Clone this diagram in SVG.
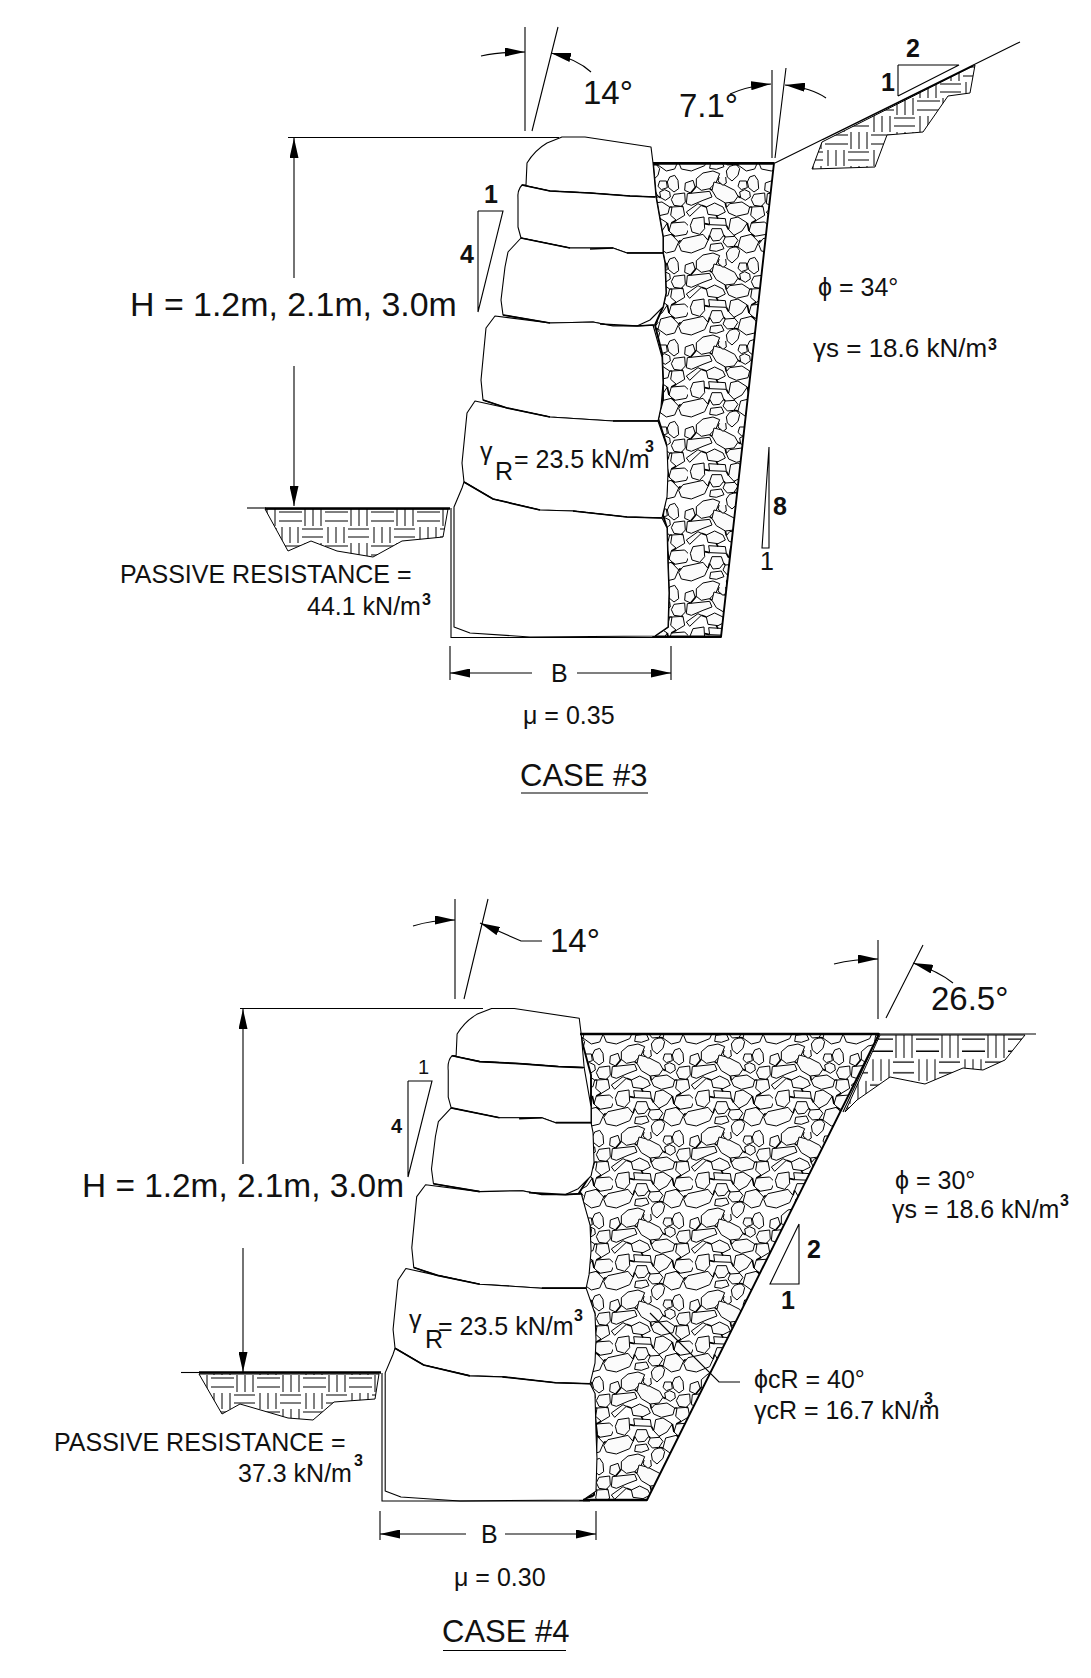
<svg xmlns="http://www.w3.org/2000/svg" width="1091" height="1678" viewBox="0 0 1091 1678">
<style>
text{font-family:"Liberation Sans",Arial,sans-serif;fill:#111;font-size:25px}
.b{font-weight:bold}
.s{font-size:16px;font-weight:bold}
.h{font-size:33.9px}
.a{font-size:33px}
.m{font-size:25px}
.t{font-size:31px}
.l{fill:none;stroke:#000;stroke-width:1.1}
.k{fill:none;stroke:#000;stroke-width:2.4}
.j{fill:none;stroke:#000;stroke-width:1.7}
.block{fill:#fff;stroke:#000;stroke-width:1.1;stroke-linejoin:round}
.fill{stroke:#000;stroke-width:1.9;stroke-linejoin:round}
.earth{stroke:#000;stroke-width:1}
.ar{marker-end:url(#ah)}
.r polygon{fill:#fbfbfb;stroke:#000;stroke-width:3;stroke-linejoin:round}
</style>
<defs>
<marker id="ah" viewBox="0 0 20 9" refX="20" refY="4.5" markerWidth="20" markerHeight="9" markerUnits="userSpaceOnUse" orient="auto"><path d="M0 0L20 4.5L0 9Z" fill="#000"/></marker>
<g id="wx" class="r">
<polygon points="338,110 405,103 412,120 385,130 350,145 335,140"/>
<polygon points="95,165 130,140 140,145 105,178"/>
<polygon points="85,245 145,232 160,250 150,272 110,288 80,282 72,262"/>
<polygon points="92,78 115,70 122,92 108,108 90,100"/>
</g>
<g id="wy" class="r">
<polygon points="125,65 145,48 175,42 195,50 185,75 165,95 140,100 125,88"/>
<polygon points="285,60 300,55 310,70 312,95 298,105 282,92 278,75"/>
<polygon points="225,28 245,22 255,35 250,55 232,72 218,60 215,42"/>
</g>
<g id="rocktile" transform="scale(.33333) translate(-100 -60)">
<rect x="100" y="60" width="240" height="246" fill="#fff"/>
<use href="#wx"/><use href="#wx" transform="translate(-240 0)"/><use href="#wx" transform="translate(240 0)"/>
<use href="#wy"/><use href="#wy" transform="translate(0 246)"/>
<g class="r">
<polygon points="178,75 205,82 240,100 250,118 238,135 212,138 185,122 172,100"/>
<polygon points="255,105 270,98 285,105 287,120 272,130 258,122"/>
<polygon points="225,140 262,135 285,150 280,170 245,178 222,168 215,152"/>
<polygon points="155,150 180,138 205,150 212,165 190,176 160,172"/>
<polygon points="162,182 212,185 215,205 165,203"/>
<polygon points="115,185 148,180 150,215 135,232 112,225 107,205"/>
<polygon points="228,185 250,180 278,198 262,222 238,235 222,218"/>
<polygon points="290,198 330,195 345,210 335,232 300,238 283,222"/>
<polygon points="172,215 200,215 207,235 195,250 175,252 165,235"/>
<polygon points="258,240 290,232 312,255 300,282 275,288 250,270"/>
<polygon points="212,240 240,238 250,250 238,268 218,270 205,255"/>
<polygon points="168,262 200,258 208,275 185,283 165,280"/>
<polygon points="292,150 325,148 330,175 305,190 288,175"/>
<polygon points="298,112 330,108 332,135 320,148 298,145 290,128"/>
<polygon points="255,72 275,72 278,92 260,98 250,88"/>
<polygon points="195,55 212,50 215,78 205,85 190,72"/>
</g>
<path fill="none" stroke="#000" stroke-width="5" d="M108 108L125 88M165 95L172 100M250 118L258 122M212 138L215 152M185 176L190 185M150 200L165 203M215 205L222 218M278 198L283 222M207 235L212 240M160 250L165 235M238 235L240 238M250 270L238 268M300 238L290 232M140 145L155 150M285 150L292 150M305 190L290 198M320 148L325 148M312 255L318 250"/>
</g>
<pattern id="rock3" width="80" height="82" patternUnits="userSpaceOnUse" patternTransform="translate(688 177)"><use href="#rocktile"/></pattern>
<pattern id="rock4" width="80" height="82" patternUnits="userSpaceOnUse" patternTransform="translate(613 1050)"><use href="#rocktile"/></pattern>
<g id="hatchtile" stroke="#000" stroke-width="1" fill="none">
<path d="M2 3H25M2 12H25M28 0V17M36 0V17M44 0V17"/>
<path d="M5 18V34M13 18V34M21 18V34M25 20H46M25 28H46"/>
</g>
<pattern id="hatch3a" width="46" height="34" patternUnits="userSpaceOnUse" patternTransform="translate(277 509)"><use href="#hatchtile"/></pattern>
<pattern id="hatch3b" width="46" height="34" patternUnits="userSpaceOnUse" patternTransform="translate(823 132)"><use href="#hatchtile"/></pattern>
<pattern id="hatch4a" width="46" height="34" patternUnits="userSpaceOnUse" patternTransform="translate(209 1375)"><use href="#hatchtile"/></pattern>
<pattern id="hatch4b" width="46" height="34" patternUnits="userSpaceOnUse" patternTransform="translate(914 1035) scale(1 1.35)"><use href="#hatchtile"/></pattern>
<g id="blocks">
<path class="block" d="M526 185L527 163Q535 150 547 143L562 137L585 137L651 147L653 163L656 197L630 196L590 193L550 191L522 185Z"/>
<path class="block" d="M522 185Q517 190 518 200L518 227L521 238L570 248L613 248L627 253L663 253L663 237L656 197L630 196L590 193L550 191Z"/>
<path class="block" d="M521 238L508 252L505 267L501 300L503 315L550 323L593 322L613 326L637 326L650 320L663 307L666 293L665 263L663 253L627 253L613 248L570 248Z"/>
<path class="block" d="M495 316L486 328L481 380L483 400L507 408L550 417L613 421L658 421L661 407L663 383L662 357L653 325L637 326L613 326L593 322L550 323Z"/>
<path class="block" d="M475 401L467 413L462 463L464 482L493 499L540 510L573 511L627 517L662 518L667 497L668 473L667 447L658 421L613 421L550 417L507 408Z"/>
<path class="block" d="M462 488L454 507L454 627L470 633L530 637L655 636L668 627L669 593L668 567L667 528L662 518L627 517L573 511L540 510L493 499L464 482Z"/>
<path class="j" d="M522 185L550 191L590 193L630 196L655 197M521 238L570 248M590 249L613 248M627 253L663 253M503 315L550 323M600 324L637 326L654 325M483 400L507 408L550 417M613 421L658 421M464 482L493 499L540 510M573 511L627 517L662 518"/>
</g>
</defs>

<g id="case3">
<polygon class="fill" fill="url(#rock3)" points="653,163 774,163 721,637 653,637 668,627 669,593 668,567 667,528 663,515 667,487 666,443 658,418 663,400 663,377 662,353 655,325 663,307 666,293 665,263 663,253 663,237 656,197"/>
<use href="#blocks"/>
<path class="k" d="M653 163.5H774M655 636.7H721"/>
<path class="l" d="M451 508V637.5H660"/>
<path class="earth" fill="url(#hatch3a)" d="M265 509L288 551L311 541L337 551L373 557L402 541L443 537L448 509Z"/>
<path class="l" d="M247 508H266"/><path class="k" d="M265 508.5H450" stroke-width="2"/>
<path class="earth" fill="url(#hatch3b)" d="M822 142L812 169L875 167L887 135L923 132L948 96L970 93L975 65Z"/>
<path class="l" d="M775 163L1020 42M823 139.5L973 66M898 65V96M898 65H959L898 96M478 211V312M478 211H503L478 312M769 447V548H762L769 447"/>
<path class="l" d="M288 137.5H559M525 27V131M558 27L532 131M772 70V158M786 68L775 158"/>
<path class="l ar" d="M294 278V138"/>
<path class="l ar" d="M294 366V506"/>
<path class="l ar" d="M481 56Q500 52 525 52"/>
<path class="l ar" d="M591 72Q577 59 551 53"/>
<path class="l ar" d="M730 94Q748 86 771 84"/>
<path class="l ar" d="M826 98Q812 88 785 85"/>
<path class="l ar" d="M532 673H450"/><path class="l ar" d="M577 673H671"/>
<path class="l" d="M450 646V680M671 646V680"/>
<path class="l" d="M521 793H648"/>
<text class="a" x="583" y="104">14°</text>
<text class="a" x="679" y="117">7.1°</text>
<text class="h" x="130" y="316">H = 1.2m, 2.1m, 3.0m</text>
<text class="b" x="484" y="203">1</text>
<text class="b" x="460" y="263">4</text>
<text class="b" x="906" y="57">2</text>
<text class="b" x="881" y="91">1</text>
<text class="b" x="773" y="515">8</text>
<text x="760" y="570">1</text>
<text class="m" x="818" y="296">ϕ  = 34°</text>
<text style="font-size:26px" x="813" y="357">γs = 18.6 kN/m</text><text class="s" x="988" y="350">3</text>
<text class="m" x="480" y="460">γ</text><text x="495" y="480">R</text><text x="514" y="468">= 23.5 kN/m</text><text class="s" x="645" y="452">3</text>
<text x="120" y="583">PASSIVE RESISTANCE =</text>
<text x="307" y="615">44.1 kN/m</text><text class="s" x="422" y="605">3</text>
<text x="551" y="682">B</text>
<text class="m" x="523" y="724">μ = 0.35</text>
<text class="t" x="520" y="786">CASE #3</text>
</g>

<g id="case4">
<polygon class="fill" fill="url(#rock4)" points="580,1034 879,1034 647,1500 580,1500 594,1495 596,1455 597,1433 593,1400 589,1386 591,1370 594,1321 584,1284 591,1230 579,1193 591,1174 591,1075"/>
<use href="#blocks" transform="translate(-62 873.5) scale(.985)"/>
<path class="k" d="M580 1034H879M583 1500H647"/>
<path class="l" d="M879 1034H1036M382 1373V1501H590"/>
<path class="earth" fill="url(#hatch4a)" d="M199 1374L222 1414L240 1404L288 1418L313 1420L334 1402L375 1399L379 1374Z"/>
<path class="l" d="M181 1372.5H200"/><path class="k" d="M199 1372.5H381" stroke-width="2"/>
<path class="earth" fill="url(#hatch4b)" d="M880 1035L1025 1035L1005 1060L983 1070L963 1068L925 1084L890 1077L857 1100L845 1112Z"/>
<path class="l" d="M879 1034L843 1112M408 1081V1177M408 1081H432L408 1177M799 1224V1284H770L799 1224"/>
<path class="l" d="M240 1008.5H483M455 899V999M488 899L464 999M878 940V1019M923 945L886 1018"/>
<path class="l ar" d="M243 1164V1009"/>
<path class="l ar" d="M243 1248V1372"/>
<path class="l ar" d="M413 926Q432 920 455 920"/>
<path class="l ar" d="M542 941H521L480 923"/>
<path class="l ar" d="M834 964Q854 959 878 959"/>
<path class="l ar" d="M953 983Q938 971 913 963"/>
<path class="l ar" d="M466 1534H380"/><path class="l ar" d="M505 1534H596"/>
<path class="l" d="M380 1511V1540M596 1511V1540M740 1382H719L650 1313M443 1650.5H566"/>
<text class="a" x="550" y="952">14°</text>
<text class="a" x="931" y="1010">26.5°</text>
<text class="h" style="font-size:33.4px" x="82" y="1197">H = 1.2m, 2.1m, 3.0m</text>
<text style="font-size:20px" x="418" y="1074">1</text>
<text class="b" style="font-size:20px" x="391" y="1133">4</text>
<text class="b" x="807" y="1258">2</text>
<text class="b" x="781" y="1309">1</text>
<text class="m" x="895" y="1189">ϕ  = 30°</text>
<text x="892" y="1218">γs = 18.6 kN/m</text><text class="s" x="1060" y="1206">3</text>
<text class="m" x="754" y="1388">ϕcR = 40°</text>
<text x="754" y="1419">γcR = 16.7 kN/m</text><text class="s" x="924" y="1404">3</text>
<text class="m" x="409" y="1328">γ</text><text x="425" y="1348">R</text><text x="438" y="1335">= 23.5 kN/m</text><text class="s" x="574" y="1321">3</text>
<text x="54" y="1451">PASSIVE RESISTANCE =</text>
<text x="238" y="1482">37.3 kN/m</text><text class="s" x="354" y="1466">3</text>
<text x="481" y="1543">B</text>
<text class="m" x="454" y="1586">μ = 0.30</text>
<text class="t" x="442" y="1642">CASE #4</text>
</g>
</svg>
